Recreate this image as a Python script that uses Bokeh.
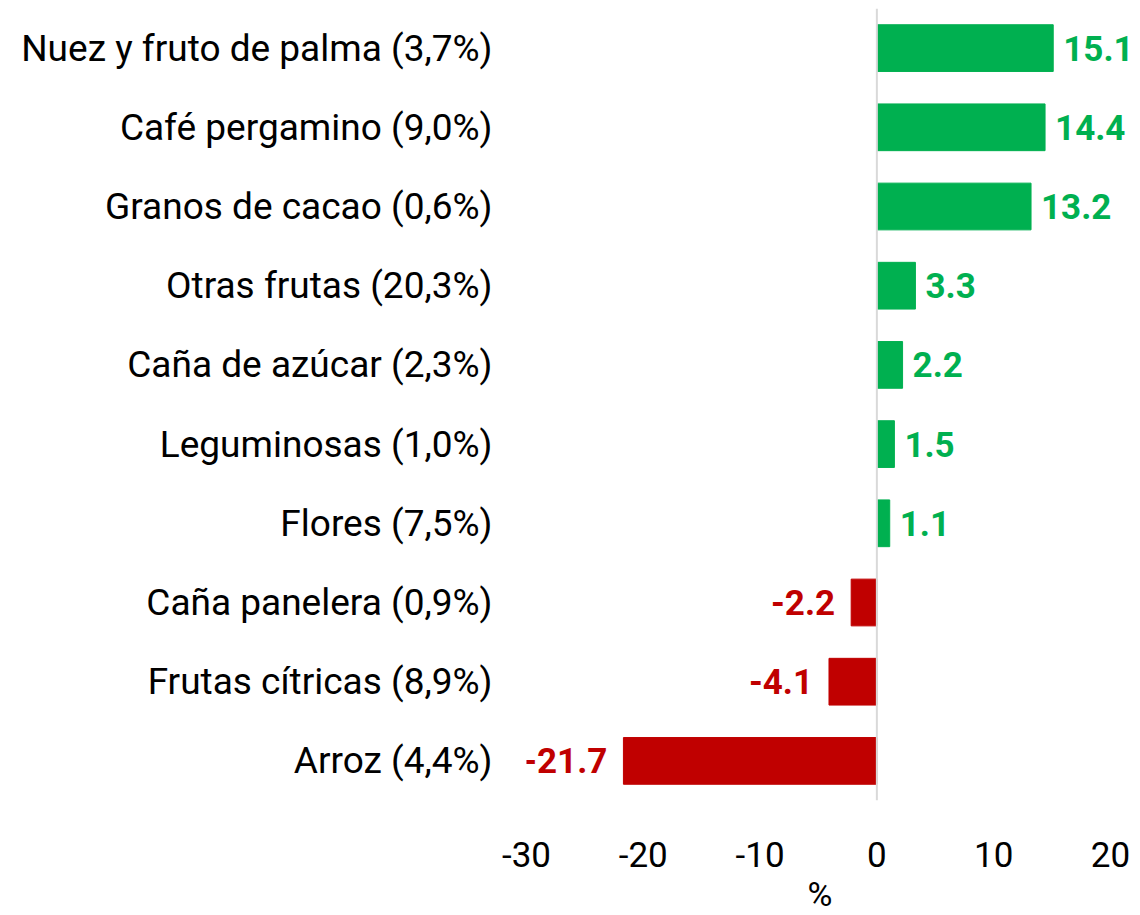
from bokeh.plotting import figure
from bokeh.models import ColumnDataSource, FactorRange, Range1d, Span, FixedTicker, Title
from bokeh.core.properties import value
from bokeh.embed import file_html
from bokeh.resources import INLINE

categories = ["Nuez y fruto de palma (3,7%)", "Café pergamino (9,0%)", "Granos de cacao (0,6%)",
              "Otras frutas (20,3%)", "Caña de azúcar (2,3%)", "Leguminosas (1,0%)",
              "Flores (7,5%)", "Caña panelera (0,9%)", "Frutas cítricas (8,9%)", "Arroz (4,4%)"]
values = [15.1, 14.4, 13.2, 3.3, 2.2, 1.5, 1.1, -2.2, -4.1, -21.7]
x_ticks = [-30, -20, -10, 0, 10, 20]
x_tick_labels = ["-30", "-20", "-10", "0", "10", "20"]

GREEN = "#00B050"
RED = "#C00000"
FONT = "Roboto"

colors = [GREEN if v >= 0 else RED for v in values]
labels = [f"{v:.1f}" for v in values]
src = ColumnDataSource(dict(cat=categories, val=values, color=colors))
src_pos = ColumnDataSource(dict(cat=[c for c, v in zip(categories, values) if v >= 0],
                                val=[v for v in values if v >= 0],
                                label=[l for l, v in zip(labels, values) if v >= 0]))
src_neg = ColumnDataSource(dict(cat=[c for c, v in zip(categories, values) if v < 0],
                                val=[v for v in values if v < 0],
                                label=[l for l, v in zip(labels, values) if v < 0]))

p = figure(width=1136, height=915, output_backend="svg", toolbar_location=None,
           y_range=FactorRange(*list(reversed(categories)), range_padding=0),
           x_range=Range1d(-30, 22.23))
p.min_border_left = 526
p.min_border_right = 0
p.min_border_top = 8
p.min_border_bottom = 114
p.outline_line_color = None
p.xgrid.visible = False
p.ygrid.visible = False

p.hbar(y="cat", right="val", left=0, height=0.59, color="color", source=src)

p.add_layout(Span(location=0, dimension="height", line_color="#D9D9D9", line_width=2))

p.text(x="val", y="cat", text="label", source=src_pos, x_offset=10,
       text_align="left", text_baseline="middle", text_color=GREEN,
       text_font=value(FONT), text_font_style="bold", text_font_size="35px")
p.text(x="val", y="cat", text="label", source=src_neg, x_offset=-16,
       text_align="right", text_baseline="middle", text_color=RED,
       text_font=value(FONT), text_font_style="bold", text_font_size="35px")

xa = p.xaxis[0]
xa.ticker = FixedTicker(ticks=x_ticks)
xa.major_label_overrides = {t: l for t, l in zip(x_ticks, x_tick_labels)}
xa.axis_line_color = None
xa.major_tick_line_color = None
xa.minor_tick_line_color = None
xa.major_tick_out = 0
xa.major_label_standoff = 41
xa.major_label_text_font = FONT
xa.major_label_text_font_size = "35px"
xa.major_label_text_color = "#000000"

ya = p.yaxis[0]
ya.axis_line_color = None
ya.major_tick_line_color = None
ya.major_tick_out = 0
ya.major_label_standoff = 34
ya.major_label_text_font = FONT
ya.major_label_text_font_size = "37px"
ya.major_label_text_color = "#000000"

p.add_layout(Title(text="%", align="left", offset=281, standoff=4,
                   text_font=FONT, text_font_size="34px", text_font_style="normal",
                   text_color="#000000"), "below")

open("out.html", "w").write(file_html(p, INLINE))
